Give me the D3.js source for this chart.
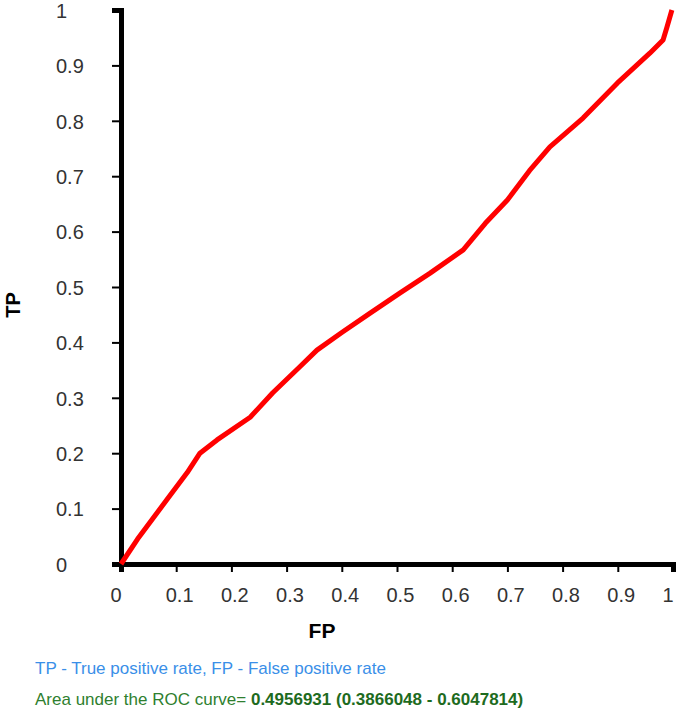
<!DOCTYPE html>
<html>
<head>
<meta charset="utf-8">
<script src="https://cdn.jsdelivr.net/npm/d3@7"></script>
<style>
  body { margin: 0; background: #fff; font-family: "Liberation Sans", Arial, sans-serif; }
</style>
</head>
<body>
<div id="chart"></div>
<script>
// ROC curve points
const fpRate = [0, 0.03, 0.083, 0.12, 0.143, 0.174, 0.234, 0.275, 0.324, 0.355, 0.40, 0.45, 0.505, 0.56, 0.62, 0.66, 0.70, 0.74, 0.777, 0.837, 0.899, 0.958, 0.982, 0.989, 0.998];
const tpRate = [0, 0.045, 0.116, 0.165, 0.200, 0.224, 0.265, 0.309, 0.356, 0.386, 0.418, 0.452, 0.489, 0.525, 0.567, 0.615, 0.657, 0.71, 0.753, 0.805, 0.868, 0.922, 0.946, 0.969, 1.0];
const tickValues = [0, 0.1, 0.2, 0.3, 0.4, 0.5, 0.6, 0.7, 0.8, 0.9, 1];
const legendText = 'TP - True positive rate, FP - False positive rate';
const aucLabel = 'Area under the ROC curve= ';
const aucValue = '0.4956931 (0.3866048 - 0.6047814)';

const width = 679, height = 720;
const margin = {top: 10, right: 6, bottom: 156, left: 121};

const points = fpRate.map((fp, i) => ({fp: fp, tp: tpRate[i]}));

const x = d3.scaleLinear()
    .domain([0, 1])
    .range([margin.left, width - margin.right]);

const y = d3.scaleLinear()
    .domain([0, 1])
    .range([height - margin.bottom, margin.top]);

const svg = d3.select('#chart').append('svg')
    .attr('width', width)
    .attr('height', height);

const fmt = d => d === 0 ? '0' : d === 1 ? '1' : d3.format('.1f')(d);

const xAxis = svg.append('g')
    .attr('transform', `translate(0,${y(0)})`)
    .call(d3.axisBottom(x).tickValues(tickValues).tickFormat(fmt).tickSize(8).tickPadding(16));

const yAxis = svg.append('g')
    .attr('transform', `translate(${x(0)},0)`)
    .call(d3.axisLeft(y).tickValues(tickValues).tickFormat(fmt).tickSize(9).tickPadding(28));

[xAxis, yAxis].forEach(g => {
    g.select('.domain').attr('stroke', '#000').attr('stroke-width', 5);
    g.selectAll('.tick line').attr('stroke', '#000').attr('stroke-width', 2);
    g.selectAll('.tick text')
        .attr('fill', '#333')
        .style('font-size', '20px')
        .style('font-family', '"Liberation Sans", Arial, sans-serif');
});

// labels are left aligned in the original
xAxis.selectAll('.tick text').attr('text-anchor', 'start').attr('x', -11);
yAxis.selectAll('.tick text').attr('text-anchor', 'start').attr('x', -65).attr('dy', '0.36em');

const line = d3.line()
    .x(d => x(d.fp))
    .y(d => y(d.tp));

svg.append('path')
    .datum(points)
    .attr('fill', 'none')
    .attr('stroke', '#ff0000')
    .attr('stroke-width', 5)
    .attr('stroke-linejoin', 'round')
    .attr('d', line);

// axis titles
svg.append('text')
    .attr('transform', 'translate(20,305) rotate(-90)')
    .attr('text-anchor', 'middle')
    .style('font-size', '20px')
    .style('font-weight', 'bold')
    .text('TP');

svg.append('text')
    .attr('x', 322)
    .attr('y', 638)
    .attr('text-anchor', 'middle')
    .style('font-size', '21px')
    .style('font-weight', 'bold')
    .text('FP');

svg.append('text')
    .attr('x', 35)
    .attr('y', 674)
    .style('font-size', '17px')
    .attr('fill', '#3a8fe8')
    .text(legendText);

const auc = svg.append('text')
    .attr('x', 35)
    .attr('y', 705)
    .style('font-size', '17px')
    .attr('fill', '#2f7f2f');
auc.append('tspan').text(aucLabel);
auc.append('tspan').attr('font-weight', 'bold').attr('fill', '#1e6b1e').text(aucValue);
</script>
</body>
</html>
